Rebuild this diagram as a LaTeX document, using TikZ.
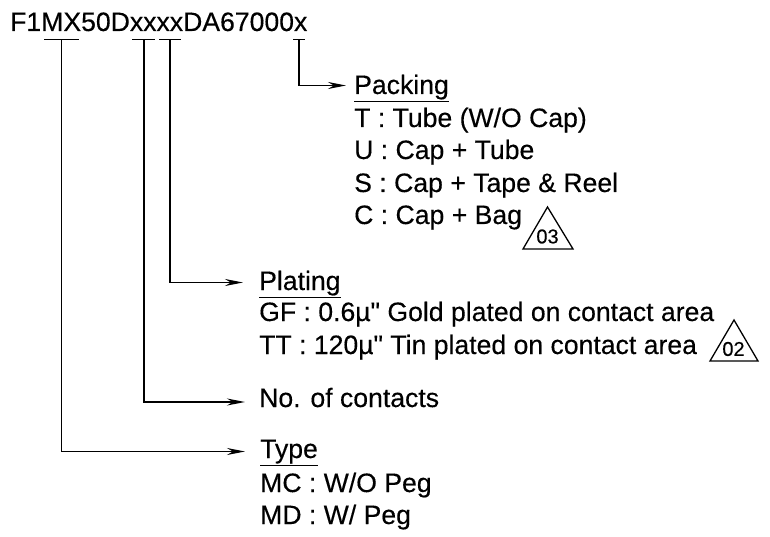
\documentclass[tikz,border=0pt]{standalone}
\usepackage{fontspec}
\setmainfont{Liberation Sans}[Ligatures=TeXOff,FakeBold=0.3]
\usetikzlibrary{arrows.meta}
\tikzset{
  txt/.style={anchor=base west,inner sep=0pt,font=\fontsize{26.6}{30}\selectfont},
  flag/.style={inner sep=0pt,font=\fontsize{20}{22}\selectfont},
  lead/.style={line width=1.5pt,-{Stealth[length=18pt,width=7pt]}},
  bar/.style={line width=1.5pt},
  tri/.style={line width=1.3pt,line join=miter}
}
\begin{document}
\begin{tikzpicture}[x=1pt,y=-1pt]
\useasboundingbox (0,0) rectangle (770,537);

\node[txt] (code) at (10,31) {F1MX50DxxxxDA67000x};

\node[txt] (packing)  at (354,94)  {\underline{Packing}};
\node[txt] (packt)    at (354,127) {T : Tube (W/O Cap)};
\node[txt] (packu)    at (354,159) {U : Cap + Tube};
\node[txt] (packs)    at (354,192) {S : Cap + Tape \& Reel};
\node[txt] (packc)    at (354,224) {C : Cap + Bag};

\node[txt] (plating)  at (259,290) {\underline{Plating}};
\node[txt] (plategf)  at (259,321) {GF : 0.6µ" Gold plated on contact area};
\node[txt] (platett)  at (259,354) {TT : 120µ" Tin plated on contact area};

\node[txt] (contacts) at (259,407) {No. of contacts};

\node[txt] (type)     at (260,458) {\underline{Type}};
\node[txt] (typemc)   at (260,492) {MC : W/O Peg};
\node[txt] (typemd)   at (260,524) {MD : W/ Peg};

\coordinate (barmx) at (61.5,39.5);
\coordinate (barno) at (144,39.5);
\coordinate (barpl) at (170,39.5);
\coordinate (barpk) at (299,39.5);
\coordinate (tipty) at (245,451.5);
\coordinate (tipno) at (245,402);
\coordinate (tippl) at (243,282.5);
\coordinate (tippk) at (346,85.5);

\draw[bar] (44,39.5) -- (79,39.5);
\draw[bar] (132,39.5) -- (155,39.5);
\draw[bar] (159,39.5) -- (181,39.5);
\draw[bar] (293,39.5) -- (305,39.5);

\draw[lead] (barmx) |- (tipty);
\draw[lead] (barno) |- (tipno);
\draw[lead] (barpl) |- (tippl);
\draw[lead] (barpk) |- (tippk);

\draw[tri] (547.5,207) -- (523,249) -- (573,249) -- cycle;
\node[flag] (rev03) at (547.5,236.5) {03};

\draw[tri] (734,320) -- (710,361) -- (758,361) -- cycle;
\node[flag] (rev02) at (733.5,349) {02};
\end{tikzpicture}
\end{document}
